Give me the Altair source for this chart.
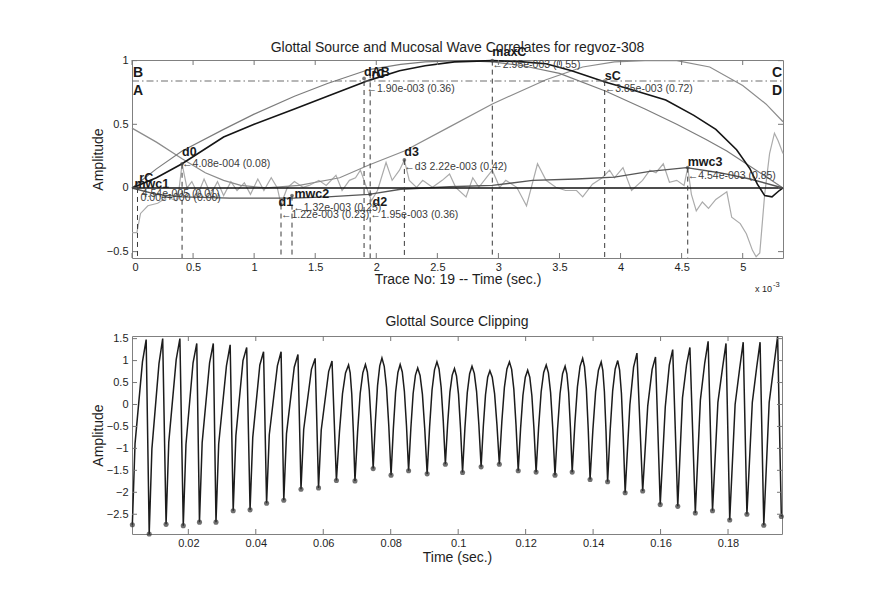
import altair as alt
import pandas as pd

FONT = "Liberation Sans"
TXT = "#1e1e1e"

# ------------------------------------------------------------------
# TOP PANEL DATA  (time in units of 1e-3 s)
# ------------------------------------------------------------------
TOP_TITLE = "Glottal Source and Mucosal Wave Correlates for regvoz-308"
BOT_TITLE = "Glottal Source Clipping"

# black glottal-source pulse
G_x = [0, 0.2, 0.41, 0.75, 1.0, 1.33, 1.6, 1.94, 2.19, 2.4, 2.64, 2.95, 3.2, 3.39,
       3.6, 3.88, 4.1, 4.37, 4.6, 4.78, 4.95, 5.06, 5.12, 5.18, 5.24, 5.30, 5.33]
G_y = [0, 0.08, 0.19, 0.40, 0.50, 0.62, 0.72, 0.845, 0.92, 0.96, 0.99, 1.0, 0.99, 0.975,
       0.92, 0.83, 0.77, 0.69, 0.57, 0.46, 0.30, 0.15, 0.03, -0.06, -0.07, -0.02, 0.0]
# gray smooth curve (rise / fall)
S_x = [0, 0.2, 0.41, 0.75, 1.0, 1.33, 1.6, 1.94, 2.2, 2.4, 2.7, 2.95, 3.2, 3.5, 3.88,
       4.2, 4.46, 4.7, 4.87, 5.11, 5.33]
S_y = [0, 0.15, 0.29, 0.46, 0.58, 0.72, 0.82, 0.93, 0.97, 0.99, 1.0, 0.99, 0.96, 0.90, 0.76,
       0.62, 0.50, 0.38, 0.29, 0.14, 0.0]
# gray U-shaped correlate
C_x = [0, 0.2, 0.41, 0.6, 0.75, 0.89, 1.1, 1.37, 1.7, 1.94, 2.23, 2.6, 2.95, 3.39, 3.69,
       3.95, 4.2, 4.46, 4.73, 5.0, 5.19, 5.33]
C_y = [0.47, 0.36, 0.23, 0.12, 0.06, 0.02, 0.0, 0.02, 0.08, 0.18, 0.29, 0.48, 0.66, 0.85, 0.95,
       0.99, 1.0, 1.0, 0.95, 0.805, 0.66, 0.52]
# dark-gray mucosal wave correlate
M_x = [0, 0.2, 0.41, 0.8, 1.32, 1.6, 1.94, 2.2, 2.6, 2.95, 3.28, 3.64, 3.95, 4.24, 4.54,
       4.81, 5.06, 5.33]
M_y = [0, -0.05, -0.07, -0.08, -0.08, -0.07, -0.05, -0.01, 0.01, 0.02, 0.06, 0.07, 0.085,
       0.13, 0.16, 0.12, 0.07, 0.0]
# light-gray noisy trace
N_x = [0, 0.04, 0.07, 0.13, 0.21, 0.29, 0.36, 0.385, 0.41, 0.45, 0.49, 0.54, 0.59, 0.645,
       0.70, 0.75, 0.81, 0.86, 0.92, 0.97, 1.03, 1.08, 1.14, 1.19, 1.22, 1.27, 1.33, 1.40,
       1.45, 1.53, 1.59, 1.67, 1.72, 1.78, 1.83, 1.87, 1.92, 1.96, 2.01, 2.08, 2.13, 2.19,
       2.23, 2.27, 2.33, 2.38, 2.46, 2.54, 2.60, 2.65, 2.735, 2.79, 2.84, 2.90, 2.95, 3.01,
       3.06, 3.15, 3.23, 3.32, 3.39, 3.47, 3.55, 3.64, 3.69, 3.77, 3.85, 3.91, 3.95, 4.02,
       4.09, 4.18, 4.24, 4.29, 4.35, 4.40, 4.46, 4.52, 4.55, 4.58, 4.62, 4.67, 4.72, 4.78,
       4.87, 4.91, 4.98, 5.03, 5.08, 5.11, 5.14, 5.18, 5.22, 5.26, 5.29, 5.33]
N_y = [-0.35, -0.35, -0.20, -0.14, -0.12, -0.07, -0.10, -0.01, 0.19, 0.0, 0.05, -0.05, 0.07,
       -0.05, 0.05, -0.06, 0.05, -0.02, 0.04, -0.05, 0.07, -0.02, 0.08, 0.0, -0.13, 0.0,
       0.05, 0.005, 0.02, 0.06, 0.02, 0.10, -0.02, 0.06, 0.08, 0.14, 0.005, -0.10, -0.02,
       0.20, 0.06, 0.14, 0.22, 0.06, 0.005, 0.06, 0.005, 0.06, 0.11, 0.005, -0.07, 0.08,
       0.005, 0.08, 0.14, 0.005, 0.06, 0.005, -0.14, 0.19, 0.06, 0.005, -0.02, -0.02, -0.07,
       0.03, 0.08, 0.14, 0.08, 0.16, -0.02, 0.06, 0.14, 0.12, 0.19, 0.045, 0.06, 0.02, 0.16,
       -0.05, -0.18, -0.11, -0.16, -0.09, -0.03, -0.23, -0.28, -0.36, -0.49, -0.54, -0.51,
       -0.05, 0.27, 0.43, 0.37, 0.27]

# event markers: x, y, vertical dashed line top
EV_x = [0.045, 0.41, 1.22, 1.31, 1.90, 1.95, 2.23, 2.95, 3.87, 4.55]
EV_y = [0.0, 0.19, -0.13, -0.06, 0.86, -0.05, 0.22, 1.0, 0.84, 0.16]
EV_top = [0.0, 0.19, -0.13, -0.06, 0.84, 0.90, 0.22, 1.0, 0.84, 0.16]

# bold event labels
LAB_x = [0.02, 0.06, 0.41, 1.20, 1.33, 1.97, 1.90, 1.96, 2.23, 2.95, 3.87, 4.55]
LAB_y = [0.0, 0.05, 0.25, -0.14, -0.08, -0.14, 0.88, 0.865, 0.25, 1.04, 0.85, 0.17]
LAB_t = ["mwc1", "rC", "d0", "d1", "mwc2", "d2", "dAB", "rC", "d3", "maxC", "sC", "mwc3"]

# value annotations
VAL_x = [0.08, 0.07, 0.41, 1.22, 1.32, 1.95, 1.92, 2.23, 2.95, 3.87, 4.55]
VAL_y = [-0.07, -0.10, 0.165, -0.235, -0.18, -0.235, 0.75, 0.14, 0.94, 0.75, 0.07]
VAL_t = ["4.54e-005 (0.01)", "0.00e+000 (0.00)", "\u21904.08e-004 (0.08)",
         "\u21901.22e-003 (0.23)", "\u21901.32e-003 (0.25)", "\u21901.95e-003 (0.36)",
         "\u21901.90e-003 (0.36)", "\u2190d3 2.22e-003 (0.42)", "\u21902.95e-003 (0.55)",
         "\u21903.85e-003 (0.72)", "\u21904.54e-003 (0.85)"]

AB_level = 0.84
CORNER_y = [0.87, 0.73]
LEFT_t = ["B", "A"]
RIGHT_t = ["C", "D"]

TOP_XTICKS = [0, 0.5, 1, 1.5, 2, 2.5, 3, 3.5, 4, 4.5, 5]
TOP_YTICKS = [-0.5, 0, 0.5, 1]
TOP_XDOM = [0, 5.33]
TOP_YDOM = [-0.55, 1.005]

# ------------------------------------------------------------------
# BOTTOM PANEL DATA (time in ms, amplitude)
# ------------------------------------------------------------------
WAVE = [
    (3.4, -2.74), (4.2, -0.89), (6.4, 0.97), (7.5, 1.48),
    (8.4, -2.95), (9.2, -1.01), (11.3, 0.93), (12.4, 1.50),
    (13.4, -2.73), (14.2, -0.86), (16.4, 1.02), (17.5, 1.50),
    (18.5, -2.76), (19.3, -0.91), (21.4, 0.95), (22.5, 1.39),
    (23.3, -2.68), (24.1, -0.87), (26.3, 0.95), (27.4, 1.39),
    (28.2, -2.68), (29.0, -0.90), (31.3, 0.88), (32.4, 1.36),
    (33.3, -2.42), (34.1, -0.71), (36.2, 1.00), (37.3, 1.30),
    (38.3, -2.40), (39.1, -0.75), (41.2, 0.90), (42.3, 1.20),
    (43.2, -2.25), (44.0, -0.69), (46.4, 0.88), (47.5, 1.20),
    (48.3, -2.18), (49.1, -0.67), (51.4, 0.85), (52.5, 1.14),
    (53.4, -1.93), (54.2, -0.57), (56.5, 0.80), (57.6, 1.05),
    (58.6, -1.90), (59.4, -0.58), (61.6, 0.75), (62.6, 0.99),
    (63.9, -1.73), (64.8, -0.63), (65.7, 0.24), (66.6, 0.72), (67.5, 0.90),
    (67.98, 0.72), (68.45, 0.24), (68.93, -0.63),
    (69.4, -1.74), (70.18, -0.63), (70.95, 0.25), (71.73, 0.72), (72.5, 0.91),
    (73.08, 0.74), (73.65, 0.32), (74.23, -0.46),
    (74.8, -1.46), (75.45, -0.40), (76.1, 0.43), (76.75, 0.88), (77.4, 1.06),
    (78.08, 0.87), (78.75, 0.39), (79.43, -0.49),
    (80.1, -1.61), (80.78, -0.55), (81.45, 0.28), (82.13, 0.73), (82.8, 0.91),
    (83.43, 0.74), (84.05, 0.30), (84.68, -0.49),
    (85.3, -1.51), (85.98, -0.53), (86.65, 0.25), (87.33, 0.67), (88.0, 0.83),
    (88.7, 0.66), (89.4, 0.23), (90.1, -0.57),
    (90.8, -1.58), (91.53, -0.51), (92.25, 0.33), (92.98, 0.79), (93.7, 0.97),
    (94.33, 0.81), (94.95, 0.39), (95.58, -0.38),
    (96.2, -1.36), (96.88, -0.44), (97.55, 0.28), (98.23, 0.67), (98.9, 0.82),
    (99.5, 0.65), (100.1, 0.23), (100.7, -0.55),
    (101.3, -1.55), (102.0, -0.53), (102.7, 0.27), (103.4, 0.70), (104.1, 0.87),
    (104.78, 0.71), (105.45, 0.30), (106.13, -0.46),
    (106.8, -1.42), (107.45, -0.50), (108.1, 0.22), (108.75, 0.62), (109.4, 0.77),
    (110.1, 0.62), (110.8, 0.24), (111.5, -0.47),
    (112.2, -1.36), (112.95, -0.38), (113.7, 0.39), (114.45, 0.81), (115.2, 0.97),
    (115.85, 0.80), (116.5, 0.35), (117.15, -0.47),
    (117.8, -1.51), (118.5, -0.55), (119.2, 0.21), (119.9, 0.62), (120.6, 0.78),
    (121.23, 0.62), (121.85, 0.20), (122.48, -0.57),
    (123.1, -1.54), (123.85, -0.52), (124.6, 0.29), (125.35, 0.73), (126.1, 0.90),
    (126.75, 0.72), (127.4, 0.27), (128.05, -0.56),
    (128.7, -1.61), (129.45, -0.57), (130.2, 0.25), (130.95, 0.70), (131.7, 0.87),
    (132.23, 0.70), (132.75, 0.27), (133.28, -0.53),
    (133.8, -1.54), (134.58, -0.45), (135.35, 0.40), (136.13, 0.87), (136.9, 1.05),
    (137.45, 0.86), (138.0, 0.36), (138.55, -0.55),
    (139.1, -1.71), (139.93, -0.58), (140.75, 0.30), (141.58, 0.78), (142.4, 0.97),
    (142.88, 0.78), (143.35, 0.29), (143.83, -0.61),
    (144.3, -1.76), (145.05, -0.60), (145.8, 0.31), (146.55, 0.81), (147.3, 1.00),
    (147.85, 0.79), (148.4, 0.25), (148.95, -0.75),
    (149.5, -2.01), (150.9, -0.01), (152.0, 0.85), (153.0, 1.17),
    (154.7, -1.97), (156.2, -0.03), (157.5, 0.80), (158.5, 1.08),
    (159.9, -2.28), (161.4, -0.05), (162.6, 0.90), (163.6, 1.25),
    (165.1, -2.32), (166.5, 0.15), (167.7, 0.90), (168.7, 1.30),
    (170.3, -2.47), (171.8, 0.10), (173.1, 0.95), (174.1, 1.44),
    (175.4, -2.42), (177.0, 0.05), (178.4, 0.85), (179.4, 1.39),
    (180.5, -2.63), (182.1, 0.0), (183.5, 0.85), (184.5, 1.42),
    (185.6, -2.50), (187.2, 0.05), (188.5, 0.85), (189.5, 1.42),
    (190.6, -2.75), (192.2, 0.05), (193.7, 0.95), (194.7, 1.55),
    (195.8, -2.55),
]
MIN_t = [3.4, 8.4, 13.4, 18.5, 23.3, 28.2, 33.3, 38.3, 43.2, 48.3, 53.4, 58.6, 63.9, 69.4,
         74.8, 80.1, 85.3, 90.8, 96.2, 101.3, 106.8, 112.2, 117.8, 123.1, 128.7, 133.8,
         139.1, 144.3, 149.5, 154.7, 159.9, 165.1, 170.3, 175.4, 180.5, 185.6, 190.6, 195.8]
MIN_y = [-2.74, -2.95, -2.73, -2.76, -2.68, -2.68, -2.42, -2.40, -2.25, -2.18, -1.93, -1.90,
         -1.73, -1.74, -1.46, -1.61, -1.51, -1.58, -1.36, -1.55, -1.42, -1.36, -1.51, -1.54,
         -1.61, -1.54, -1.71, -1.76, -2.01, -1.97, -2.28, -2.32, -2.47, -2.42, -2.63, -2.50,
         -2.75, -2.55]

BOT_XTICKS = [0.02, 0.04, 0.06, 0.08, 0.1, 0.12, 0.14, 0.16, 0.18]
BOT_YTICKS = [-2.5, -2, -1.5, -1, -0.5, 0, 0.5, 1, 1.5]
BOT_XDOM = [0.0033, 0.1960]
BOT_YDOM = [-2.95, 1.56]

TOP_W, TOP_H = 651, 198
BOT_W, BOT_H = 650, 198
TICK = 5

# ------------------------------------------------------------------
def curve(xs, ys):
    assert len(xs) == len(ys)
    return pd.DataFrame({"x": xs, "y": ys})


def axis_style(**kw):
    base = dict(ticks=False, domain=False, grid=False, labelFont=FONT, titleFont=FONT,
                labelFontSize=11, titleFontSize=14, titleFontWeight="normal",
                labelColor=TXT, titleColor=TXT, format="~g")
    base.update(kw)
    return alt.Axis(**base)


def title_text(text, W, dy):
    return alt.Chart(pd.DataFrame({"t": [text]})).mark_text(
        align="center", baseline="middle", font=FONT, fontSize=14, color=TXT
    ).encode(x=alt.value(W / 2), y=alt.value(dy), text="t:N")


# ---------------- top chart ----------------
xT = alt.X("x:Q", scale=alt.Scale(domain=TOP_XDOM, nice=False, zero=False),
           axis=axis_style(title="Trace No: 19 -- Time (sec.)", values=TOP_XTICKS,
                           labelPadding=3, titlePadding=0))
yT = alt.Y("y:Q", scale=alt.Scale(domain=TOP_YDOM, nice=False, zero=False),
           axis=axis_style(title="Amplitude", values=TOP_YTICKS, labelPadding=4,
                           titlePadding=1))


def tline(xs, ys, color, w):
    return alt.Chart(curve(xs, ys)).mark_line(color=color, strokeWidth=w).encode(x=xT, y=yT)


lines = [
    tline(N_x, N_y, "#ababab", 1.2),
    tline(C_x, C_y, "#8c8c8c", 1.2),
    tline(S_x, S_y, "#7c7c7c", 1.2),
    tline(M_x, M_y, "#565656", 1.4),
    tline(G_x, G_y, "#151515", 1.6),
]

hlines = pd.DataFrame({"x": [TOP_XDOM[0], TOP_XDOM[0]], "x2": [TOP_XDOM[1], TOP_XDOM[1]],
                       "y": [0, AB_level], "kind": ["zero", "ab"]})
zero_rule = alt.Chart(hlines[hlines.kind == "zero"]).mark_rule(
    color="#111", strokeWidth=1.5).encode(x=xT, x2="x2:Q", y=yT)
ab_rule = alt.Chart(hlines[hlines.kind == "ab"]).mark_rule(
    color="#6e6e6e", strokeWidth=1.1, strokeDash=[7, 3, 1.5, 3]).encode(x=xT, x2="x2:Q", y=yT)

ev = pd.DataFrame({"x": EV_x, "y": EV_y, "top": EV_top,
                   "bot": [TOP_YDOM[0]] * len(EV_x)})
vrules = alt.Chart(ev).mark_rule(color="#3a3a3a", strokeWidth=1, strokeDash=[5, 4]).encode(
    x=xT, y=alt.Y("top:Q", scale=alt.Scale(domain=TOP_YDOM, nice=False, zero=False)),
    y2="bot:Q")
marks = alt.Chart(ev).mark_point(shape="circle", size=14, filled=True, color="#444").encode(
    x=xT, y=yT)

labs = alt.Chart(pd.DataFrame({"x": LAB_x, "y": LAB_y, "t": LAB_t})).mark_text(
    align="left", baseline="alphabetic", font=FONT, fontSize=12.5, fontWeight="bold",
    color="#1a1a1a").encode(x=xT, y=yT, text="t:N")
vals = alt.Chart(pd.DataFrame({"x": VAL_x, "y": VAL_y, "t": VAL_t})).mark_text(
    align="left", baseline="alphabetic", font=FONT, fontSize=10.5, color="#3c3c3c").encode(
    x=xT, y=yT, text="t:N")
left_txt = alt.Chart(pd.DataFrame({"x": [TOP_XDOM[0]] * 2, "y": CORNER_y, "t": LEFT_t})).mark_text(
    align="left", baseline="alphabetic", dx=1, font=FONT, fontSize=14, fontWeight="bold",
    color="#1a1a1a").encode(x=xT, y=yT, text="t:N")
right_txt = alt.Chart(pd.DataFrame({"x": [TOP_XDOM[1]] * 2, "y": CORNER_y, "t": RIGHT_t})).mark_text(
    align="right", baseline="alphabetic", dx=-1, font=FONT, fontSize=14, fontWeight="bold",
    color="#1a1a1a").encode(x=xT, y=yT, text="t:N")
expo = alt.Chart(pd.DataFrame({"x": [TOP_XDOM[1]], "y": [TOP_YDOM[0]]}))
expo_a = expo.mark_text(align="right", baseline="alphabetic", dx=-11, dy=34, font=FONT,
                        fontSize=9, color=TXT, text="x 10").encode(x=xT, y=yT)
expo_b = expo.mark_text(align="left", baseline="alphabetic", dx=-10, dy=29, font=FONT,
                        fontSize=7.5, color=TXT, text="-3").encode(x=xT, y=yT)


def tick_layers(xticks, yticks, xenc, yenc, W, H):
    tx = alt.Chart(pd.DataFrame({"x": xticks}))
    ty = alt.Chart(pd.DataFrame({"y": yticks}))
    st = dict(color="#777", strokeWidth=1)
    return [
        tx.mark_rule(**st).encode(x=xenc, y=alt.value(H), y2=alt.value(H - TICK)),
        tx.mark_rule(**st).encode(x=xenc, y=alt.value(0), y2=alt.value(TICK)),
        ty.mark_rule(**st).encode(y=yenc, x=alt.value(0), x2=alt.value(TICK)),
        ty.mark_rule(**st).encode(y=yenc, x=alt.value(W), x2=alt.value(W - TICK)),
    ]


top = alt.layer(
    *lines, zero_rule, ab_rule, vrules, marks, labs, vals, left_txt, right_txt,
    expo_a, expo_b, *tick_layers(TOP_XTICKS, TOP_YTICKS, xT, yT, TOP_W, TOP_H),
    title_text(TOP_TITLE, TOP_W, -12.5),
).properties(width=TOP_W, height=TOP_H)

# ---------------- bottom chart ----------------
xB = alt.X("x:Q", scale=alt.Scale(domain=BOT_XDOM, nice=False, zero=False),
           axis=axis_style(title="Time (sec.)", values=BOT_XTICKS, labelPadding=3,
                           titlePadding=2))
yB = alt.Y("y:Q", scale=alt.Scale(domain=BOT_YDOM, nice=False, zero=False),
           axis=axis_style(title="Amplitude", values=BOT_YTICKS, labelPadding=4,
                           titlePadding=1))

wave = pd.DataFrame({"x": [p[0] / 1000 for p in WAVE], "y": [p[1] for p in WAVE]})
mins = pd.DataFrame({"x": [t / 1000 for t in MIN_t], "y": MIN_y})
assert len(MIN_t) == len(MIN_y)

wave_line = alt.Chart(wave).mark_line(color="#1c1c1c", strokeWidth=1.5).encode(x=xB, y=yB)
wave_pts = alt.Chart(mins).mark_point(shape="circle", size=26, filled=True,
                                      color="#333").encode(x=xB, y=yB)

bottom = alt.layer(
    wave_line, wave_pts, *tick_layers(BOT_XTICKS, BOT_YTICKS, xB, yB, BOT_W, BOT_H),
    title_text(BOT_TITLE, BOT_W, -14),
).properties(width=BOT_W, height=BOT_H)

chart = alt.vconcat(top, bottom, spacing=19).properties(
    background="#ffffff",
    padding={"left": 90, "top": 40, "right": 5, "bottom": 5},
).configure_view(stroke="#808080", strokeWidth=1, fill="#ffffff")

chart.save("out.html", embed_options={"renderer": "svg", "actions": False})
